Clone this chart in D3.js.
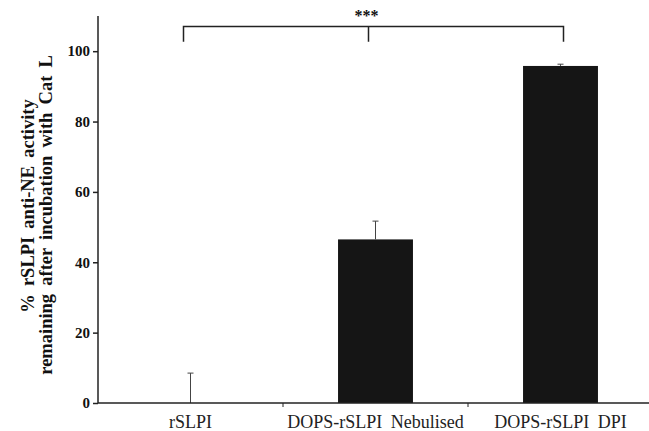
<!DOCTYPE html>
<html>
<head>
<meta charset="utf-8">
<script src="https://cdn.jsdelivr.net/npm/d3@7"></script>
<style>
  html, body { margin: 0; padding: 0; background: #fff; }
  svg { display: block; font-family: "Liberation Serif", "Times New Roman", serif; }
</style>
</head>
<body>
<div id="main"></div>
<script>
"use strict";

// data
var categories = ["rSLPI", "DOPS-rSLPI Nebulised", "DOPS-rSLPI DPI"];
var activity = [0, 46.5, 95.8];
var errors = [8.5, 5.2, 0.5];
var yTicks = [0, 20, 40, 60, 80, 100];
var yTitle = ["% rSLPI anti-NE activity", "remaining after incubation with Cat L"];
var significance = "***";

var width = 649, height = 431;

var svg = d3.select("#main").append("svg")
    .attr("width", width)
    .attr("height", height);

var x = d3.scaleBand().domain(categories).range([98, 653]).padding(0);
var y = d3.scaleLinear().domain([0, 110]).range([403, 16]);

var barW = x.bandwidth() * 0.405;
var mid = function(c){ return x(c) + x.bandwidth() / 2; };

// bars
svg.selectAll("rect.bar")
    .data(categories)
    .enter().append("rect")
    .attr("class", "bar")
    .attr("x", function(d){ return mid(d) - barW / 2; })
    .attr("width", barW)
    .attr("y", function(d, i){ return y(activity[i]); })
    .attr("height", function(d, i){ return y(0) - y(activity[i]); })
    .attr("fill", "#151515");

// error bars (upper only)
var eb = svg.selectAll("g.err")
    .data(categories)
    .enter().append("g")
    .attr("class", "err")
    .attr("stroke", "#444")
    .attr("stroke-width", 1);
eb.append("line")
    .attr("x1", function(d){ return mid(d); })
    .attr("x2", function(d){ return mid(d); })
    .attr("y1", function(d, i){ return y(activity[i]); })
    .attr("y2", function(d, i){ return y(activity[i] + errors[i]); });
eb.append("line")
    .attr("x1", function(d){ return mid(d) - 3; })
    .attr("x2", function(d){ return mid(d) + 3; })
    .attr("y1", function(d, i){ return y(activity[i] + errors[i]); })
    .attr("y2", function(d, i){ return y(activity[i] + errors[i]); });

// y axis
var yAxis = svg.append("g")
    .attr("transform", "translate(98,0)")
    .call(d3.axisLeft(y).tickValues(yTicks).tickSize(5).tickPadding(3));
yAxis.select(".domain").attr("d", "M0," + y(110) + "V" + y(0)).attr("stroke", "#222").attr("stroke-width", 1.5);
yAxis.selectAll(".tick line").attr("stroke", "#222").attr("stroke-width", 1.5);
yAxis.selectAll(".tick text")
    .attr("fill", "#111")
    .style("font-family", "'Liberation Serif', serif")
    .style("font-weight", "bold")
    .style("font-size", "15px");

// x axis: baseline with ticks at category boundaries
svg.append("line")
    .attr("x1", 98).attr("x2", 653)
    .attr("y1", y(0)).attr("y2", y(0))
    .attr("stroke", "#222").attr("stroke-width", 1.5);
svg.selectAll("line.xtick")
    .data(categories.slice(1))
    .enter().append("line")
    .attr("class", "xtick")
    .attr("x1", function(d){ return x(d); })
    .attr("x2", function(d){ return x(d); })
    .attr("y1", y(0)).attr("y2", y(0) + 4)
    .attr("stroke", "#222").attr("stroke-width", 1);
svg.selectAll("text.xlab")
    .data(categories)
    .enter().append("text")
    .attr("class", "xlab")
    .attr("x", function(d){ return mid(d); })
    .attr("y", 428)
    .attr("text-anchor", "middle")
    .attr("fill", "#222")
    .style("font-size", "18px")
    .style("word-spacing", "4px")
    .text(function(d){ return d; });

// y title
var yt = svg.append("text")
    .attr("transform", "translate(33.5,210) rotate(-90)")
    .attr("text-anchor", "middle")
    .attr("fill", "#111")
    .style("font-weight", "bold")
    .style("font-size", "18.5px")
    .style("word-spacing", "3.5px");
yt.selectAll("tspan")
    .data(yTitle)
    .enter().append("tspan")
    .attr("x", function(d, i){ return i ? -5 : 4; })
    .attr("dy", function(d, i){ return i ? 18 : 0; })
    .text(function(d){ return d; });

// significance bracket
var bx = [mid(categories[0]) - 7, mid(categories[1]) - 7, mid(categories[2]) + 3];
var by = y(107), bDrop = y(102.7);
svg.append("path")
    .attr("d", "M" + bx[0] + "," + bDrop + "V" + by + "H" + bx[2] + "V" + bDrop +
               "M" + bx[1] + "," + by + "V" + bDrop)
    .attr("fill", "none")
    .attr("stroke", "#222")
    .attr("stroke-width", 1.5);
svg.append("text")
    .attr("x", bx[1] - 2)
    .attr("y", 21)
    .attr("text-anchor", "middle")
    .attr("fill", "#111")
    .style("font-weight", "bold")
    .style("font-size", "16px")
    .text(significance);
</script>
</body>
</html>
